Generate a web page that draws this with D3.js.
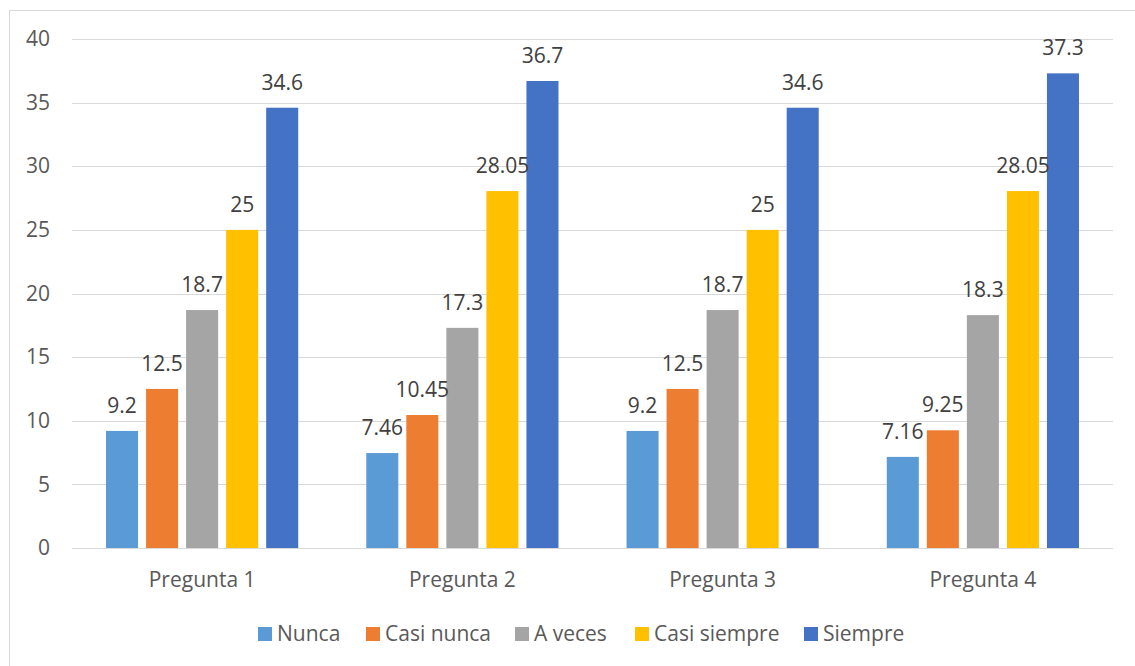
<!DOCTYPE html>
<html>
<head>
<meta charset="utf-8">
<script src="https://cdn.jsdelivr.net/npm/d3@7"></script>
<style>
  html, body { margin: 0; padding: 0; background: #fff; }
  svg { display: block; font-family: "Open Sans", "Noto Sans", sans-serif; }
</style>
</head>
<body>
<svg id="chart" width="1135" height="666"></svg>
<script>
// Survey responses per question (percent)
const categories = ["Pregunta 1", "Pregunta 2", "Pregunta 3", "Pregunta 4"];
const seriesNames = ["Nunca", "Casi nunca", "A veces", "Casi siempre", "Siempre"];
const nunca       = [9.2, 7.46, 9.2, 7.16];
const casiNunca   = [12.5, 10.45, 12.5, 9.25];
const aVeces      = [18.7, 17.3, 18.7, 18.3];
const casiSiempre = [25, 28.05, 25, 28.05];
const siempre     = [34.6, 36.7, 34.6, 37.3];
const yTicks = [0, 5, 10, 15, 20, 25, 30, 35, 40];

const seriesValues = [nunca, casiNunca, aVeces, casiSiempre, siempre];
const colors = ["#5B9BD5", "#ED7D31", "#A5A5A5", "#FFC000", "#4472C4"];

const svg = d3.select("#chart");
const FONT = "'Open Sans', 'Noto Sans', sans-serif";

// outer chart frame
svg.append("rect")
  .attr("x", 9.5).attr("y", 10.5)
  .attr("width", 1200).attr("height", 700)
  .attr("fill", "none").attr("stroke", "#d9d9d9").attr("stroke-width", 1);

const plotLeft = 72, plotRight = 1113, plotTop = 39, plotBottom = 548;

const y = d3.scaleLinear().domain([0, 40]).range([plotBottom, plotTop]);
const x0 = d3.scaleBand().domain(categories).range([plotLeft, plotRight]);
const x1 = d3.scaleBand().domain(seriesNames).range([0, x0.bandwidth()])
  .paddingInner(0.2).paddingOuter(0.85);
const color = d3.scaleOrdinal().domain(seriesNames).range(colors);

// gridlines
svg.append("g")
  .selectAll("line")
  .data(yTicks)
  .join("line")
  .attr("x1", plotLeft).attr("x2", plotRight)
  .attr("y1", d => Math.round(y(d)) + 0.5)
  .attr("y2", d => Math.round(y(d)) + 0.5)
  .attr("stroke", "#d9d9d9").attr("stroke-width", 1);

// y axis labels
const yAxis = d3.axisLeft(y).tickValues(yTicks).tickSize(0).tickPadding(0);
const yg = svg.append("g").attr("transform", `translate(50,0)`).call(yAxis);
yg.select(".domain").remove();
yg.selectAll("text")
  .attr("fill", "#595959")
  .style("font-size", "21px")
  .style("font-family", FONT);

// x axis labels
const xAxis = d3.axisBottom(x0).tickSize(0).tickPadding(0);
const xg = svg.append("g").attr("transform", `translate(0,${plotBottom})`).call(xAxis);
xg.select(".domain").remove();
xg.selectAll("text")
  .attr("dy", "0")
  .attr("y", 39)
  .attr("fill", "#595959")
  .style("font-size", "21px")
  .style("font-family", FONT);

// bars
const rows = [];
categories.forEach((c, i) => {
  seriesNames.forEach((s, j) => rows.push({ cat: c, series: s, value: seriesValues[j][i] }));
});

const groups = svg.append("g");
groups.selectAll("rect")
  .data(rows)
  .join("rect")
  .attr("x", d => x0(d.cat) + x1(d.series))
  .attr("y", d => y(d.value))
  .attr("width", x1.bandwidth())
  .attr("height", d => y(0) - y(d.value))
  .attr("fill", d => color(d.series));

// value labels
groups.selectAll("text")
  .data(rows)
  .join("text")
  .attr("x", d => x0(d.cat) + x1(d.series) + x1.bandwidth() / 2)
  .attr("y", d => y(d.value) - 18)
  .attr("text-anchor", "middle")
  .attr("fill", "#404040")
  .style("font-size", "21px")
  .text(d => d.value);

// legend
const legendItems = [
  { name: "Nunca", x: 258 },
  { name: "Casi nunca", x: 366 },
  { name: "A veces", x: 515 },
  { name: "Casi siempre", x: 635 },
  { name: "Siempre", x: 804 }
];
const lg = svg.append("g");
const li = lg.selectAll("g").data(legendItems).join("g")
  .attr("transform", d => `translate(${d.x},627)`);
li.append("rect").attr("width", 14).attr("height", 14)
  .attr("fill", d => color(d.name));
li.append("text")
  .attr("x", 19).attr("y", 14)
  .attr("fill", "#595959")
  .style("font-size", "21px")
  .text(d => d.name);
</script>
</body>
</html>
